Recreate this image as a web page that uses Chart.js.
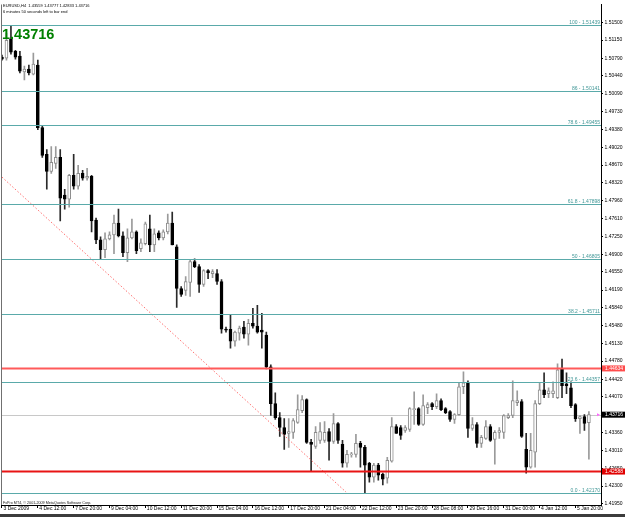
<!DOCTYPE html>
<html>
<head>
<meta charset="utf-8">
<script src="https://cdn.jsdelivr.net/npm/chart.js@4"></script>
<style>
  html, body { margin: 0; padding: 0; background: #fff; }
  canvas { display: block; }
</style>
</head>
<body>
<canvas id="chart" width="625" height="517"></canvas>
<script>
// EURUSD H4 candles, 3 Dec 2009 .. 6 Jan 2010
const opens = [
  1.50810, 1.50790, 1.51165, 1.50928, 1.50830, 1.50515, 1.50574, 1.50475, 1.50653, 1.49412,
  1.48880, 1.48545, 1.48702, 1.48821, 1.48072, 1.47993, 1.48466, 1.48249, 1.48505, 1.48407,
  1.48446, 1.47579, 1.47185, 1.46988, 1.47205, 1.47284, 1.47520, 1.47264, 1.46929, 1.47225,
  1.47343, 1.47008, 1.47107, 1.47402, 1.47087, 1.47323, 1.47225, 1.47343, 1.47520, 1.47048,
  1.46220, 1.46181, 1.46338, 1.46752, 1.46654, 1.46299, 1.46575, 1.46516, 1.46516, 1.46358,
  1.45412, 1.45412, 1.45176, 1.45334, 1.45452, 1.45314, 1.45531, 1.45472, 1.45393, 1.45294,
  1.44664, 1.43935, 1.43659, 1.43462, 1.43344, 1.43364, 1.43561, 1.43797, 1.44014, 1.43167,
  1.43088, 1.43206, 1.43206, 1.43383, 1.43186, 1.43541, 1.43127, 1.42753, 1.42920, 1.42930,
  1.43147, 1.43068, 1.42753, 1.42477, 1.42714, 1.42536, 1.42457, 1.42792, 1.43482, 1.43462,
  1.43403, 1.43423, 1.43817, 1.43836, 1.43521, 1.43856, 1.43935, 1.43876, 1.43994, 1.43836,
  1.43777, 1.43620, 1.43718, 1.44270, 1.44349, 1.43442, 1.43521, 1.43147, 1.43245, 1.43482,
  1.43226, 1.43364, 1.43364, 1.43659, 1.43699, 1.43955, 1.43974, 1.43029, 1.42674, 1.42970,
  1.43935, 1.44211, 1.44132, 1.44132, 1.44053, 1.44624, 1.44329, 1.44250, 1.43915, 1.43639,
  1.43679, 1.43559
];
const highs = [
  1.50850, 1.51283, 1.51439, 1.50948, 1.50928, 1.50633, 1.50653, 1.50889, 1.50751, 1.49451,
  1.48978, 1.49037, 1.49037, 1.48978, 1.48190, 1.48486, 1.48880, 1.48663, 1.48564, 1.48604,
  1.48466, 1.47619, 1.47245, 1.47323, 1.47343, 1.47678, 1.47796, 1.47343, 1.47402, 1.47599,
  1.47363, 1.47205, 1.47540, 1.47678, 1.47402, 1.47363, 1.47382, 1.47698, 1.47737, 1.47087,
  1.46260, 1.46457, 1.46791, 1.46811, 1.46693, 1.46594, 1.46594, 1.46594, 1.46594, 1.46397,
  1.45452, 1.45708, 1.45373, 1.45472, 1.45570, 1.45609, 1.45826, 1.45885, 1.45728, 1.45353,
  1.44703, 1.44152, 1.43758, 1.43639, 1.43639, 1.43639, 1.44112, 1.44093, 1.44033, 1.43226,
  1.43482, 1.43561, 1.43580, 1.43442, 1.43738, 1.43561, 1.43206, 1.43009, 1.42970, 1.43324,
  1.43186, 1.43108, 1.42773, 1.42753, 1.42753, 1.42556, 1.42871, 1.43659, 1.43521, 1.43502,
  1.43502, 1.43856, 1.44171, 1.43856, 1.44112, 1.43955, 1.43955, 1.44132, 1.44033, 1.43856,
  1.43797, 1.43738, 1.44349, 1.44565, 1.44388, 1.43659, 1.43561, 1.43305, 1.43600, 1.43521,
  1.43403, 1.43462, 1.43718, 1.43738, 1.44388, 1.44191, 1.44014, 1.43344, 1.43344, 1.43994,
  1.44349, 1.44546, 1.44250, 1.44368, 1.44723, 1.44821, 1.44546, 1.44368, 1.43935, 1.43699,
  1.43718, 1.43777
];
const lows = [
  1.50751, 1.50751, 1.50869, 1.50771, 1.50495, 1.50357, 1.50456, 1.50456, 1.49372, 1.48821,
  1.48190, 1.48505, 1.48604, 1.47560, 1.47796, 1.47836, 1.48190, 1.48190, 1.48367, 1.48367,
  1.47343, 1.47107, 1.46811, 1.46831, 1.47185, 1.46910, 1.47245, 1.46851, 1.46752, 1.47205,
  1.46910, 1.46949, 1.47087, 1.46949, 1.46949, 1.47185, 1.47185, 1.47304, 1.47087, 1.45846,
  1.46063, 1.46082, 1.46063, 1.46634, 1.46141, 1.46260, 1.46417, 1.46437, 1.46299, 1.45334,
  1.45353, 1.45038, 1.45078, 1.45196, 1.45235, 1.45097, 1.45432, 1.45334, 1.45038, 1.44624,
  1.43699, 1.43620, 1.43285, 1.43029, 1.43068, 1.43245, 1.43541, 1.43758, 1.43147, 1.42595,
  1.43048, 1.43147, 1.43167, 1.42812, 1.43147, 1.43147, 1.42674, 1.42674, 1.42871, 1.42871,
  1.42674, 1.42170, 1.42379, 1.42379, 1.42418, 1.42320, 1.42359, 1.42773, 1.43344, 1.43226,
  1.43364, 1.43383, 1.43521, 1.43502, 1.43502, 1.43738, 1.43817, 1.43836, 1.43797, 1.43738,
  1.43580, 1.43541, 1.43699, 1.44132, 1.43265, 1.43403, 1.43068, 1.43068, 1.43226, 1.43186,
  1.42733, 1.43245, 1.43245, 1.43639, 1.43659, 1.43896, 1.43265, 1.42556, 1.42654, 1.42674,
  1.43915, 1.44053, 1.44053, 1.44053, 1.44033, 1.44053, 1.44132, 1.43856, 1.43580, 1.43344,
  1.43403, 1.42833
];
const closes = [
  1.50771, 1.51145, 1.50909, 1.50810, 1.50534, 1.50574, 1.50495, 1.50672, 1.49412, 1.48860,
  1.48545, 1.48722, 1.48821, 1.48013, 1.47993, 1.48466, 1.48249, 1.48505, 1.48407, 1.48446,
  1.47560, 1.47185, 1.46988, 1.47205, 1.47284, 1.47520, 1.47264, 1.46929, 1.47225, 1.47343,
  1.46969, 1.47126, 1.47501, 1.47087, 1.47304, 1.47225, 1.47343, 1.47520, 1.47087, 1.46220,
  1.46102, 1.46358, 1.46752, 1.46654, 1.46299, 1.46575, 1.46535, 1.46555, 1.46358, 1.45412,
  1.45393, 1.45176, 1.45353, 1.45432, 1.45314, 1.45531, 1.45472, 1.45353, 1.45353, 1.44664,
  1.43935, 1.43659, 1.43462, 1.43324, 1.43383, 1.43600, 1.43817, 1.44014, 1.43167, 1.43127,
  1.43364, 1.43383, 1.43364, 1.43186, 1.43541, 1.43206, 1.42753, 1.42930, 1.42930, 1.43147,
  1.43068, 1.42714, 1.42477, 1.42714, 1.42517, 1.42438, 1.42812, 1.43482, 1.43344, 1.43305,
  1.43462, 1.43836, 1.43836, 1.43521, 1.43896, 1.43915, 1.43876, 1.43994, 1.43817, 1.43758,
  1.43620, 1.43718, 1.44270, 1.44349, 1.43442, 1.43521, 1.43147, 1.43265, 1.43482, 1.43206,
  1.43364, 1.43403, 1.43699, 1.43699, 1.43994, 1.43994, 1.43285, 1.42674, 1.43009, 1.43935,
  1.44211, 1.44112, 1.44191, 1.44191, 1.44605, 1.44290, 1.44290, 1.43896, 1.43639, 1.43679,
  1.43541, 1.43716
];

// one time label every 8 bars
const xTickLabels = [
  '3 Dec 2009', '4 Dec 12:00', '7 Dec 20:00', '9 Dec 04:00', '10 Dec 12:00', '11 Dec 20:00',
  '15 Dec 04:00', '16 Dec 12:00', '17 Dec 20:00', '21 Dec 04:00', '22 Dec 12:00', '23 Dec 20:00',
  '28 Dec 08:00', '29 Dec 16:00', '31 Dec 00:00', '4 Jan 12:00', '5 Jan 20:00'
];
const yTickValues = [
  1.51500, 1.51150, 1.50790, 1.50440, 1.50090, 1.49730, 1.49380, 1.49020, 1.48670, 1.48320,
  1.47960, 1.47610, 1.47250, 1.46900, 1.46550, 1.46190, 1.45840, 1.45480, 1.45130, 1.44780,
  1.44420, 1.44070, 1.43720, 1.43360, 1.43010, 1.42650, 1.42300, 1.41950
];

// fibonacci retracement levels
const fibNames = ['100', '86', '78.6', '61.8', '50', '38.2', '23.6', '0.0'];
const fibPrices = [1.51439, 1.50141, 1.49455, 1.47898, 1.46805, 1.45711, 1.44357, 1.42170];

// horizontal lines and the dashed trend line
const redLevels = [1.44634, 1.42588];
const bidPrice = 1.43716;
const trendX = [0, 76.8];
const trendY = [1.48430, 1.42180];

const titleLine = 'EURUSD,H4  1.43559 1.43777 1.42833 1.43716';
const timerLine = '6 minutes 50 seconds left to bar end';
const copyright = 'FxPro MT4, \u00a9 2001-2009 MetaQuotes Software Corp.';

const FONT = '"Liberation Sans", Arial, sans-serif';
const isUp = i => closes[i] >= opens[i];

const overlay = {
  id: 'overlay',
  beforeDatasetsDraw(chart) {
    const { ctx, chartArea: a, scales: { y } } = chart;
    ctx.save();
    ctx.strokeStyle = '#c8c8c8';
    ctx.lineWidth = 1;
    const py = Math.round(y.getPixelForValue(bidPrice)) + 0.5;
    ctx.beginPath();
    ctx.moveTo(a.left, py);
    ctx.lineTo(a.right, py);
    ctx.stroke();
    ctx.restore();
  },
  afterDatasetsDraw(chart) {
    const { ctx, chartArea: a, scales: { y } } = chart;
    ctx.save();
    ctx.beginPath();
    ctx.rect(a.left, a.top, a.right - a.left, a.bottom - a.top);
    ctx.clip();

    // fibo levels
    ctx.font = '5px ' + FONT;
    ctx.textAlign = 'right';
    ctx.textBaseline = 'alphabetic';
    fibPrices.forEach((p, i) => {
      const py = Math.round(y.getPixelForValue(p)) + 0.5;
      ctx.strokeStyle = '#5aaaaa';
      ctx.lineWidth = 1;
      ctx.beginPath();
      ctx.moveTo(a.left, py);
      ctx.lineTo(a.right, py);
      ctx.stroke();
      ctx.fillStyle = '#3f9696';
      ctx.fillText(fibNames[i] + ' - ' + p.toFixed(5), a.right - 1, py - 2);
    });

    // red support / resistance
    const redCols = ['#ff5a5a', '#e81414'];
    redLevels.forEach((p, i) => {
      const py = y.getPixelForValue(p);
      ctx.strokeStyle = redCols[i];
      ctx.lineWidth = 2;
      ctx.beginPath();
      ctx.moveTo(a.left, py);
      ctx.lineTo(a.right, py);
      ctx.stroke();
    });
    ctx.restore();
  },
  afterDraw(chart) {
    const { ctx, chartArea: a, scales: { y } } = chart;
    ctx.save();

    // price tags on the axis
    const tag = (p, bg) => {
      const py = y.getPixelForValue(p);
      ctx.fillStyle = bg;
      ctx.fillRect(a.right + 1, py - 3, 23, 6);
      ctx.fillStyle = '#fff';
      ctx.font = '5px ' + FONT;
      ctx.textAlign = 'left';
      ctx.textBaseline = 'middle';
      ctx.fillText(p.toFixed(5), a.right + 4, py + 0.3);
    };
    tag(redLevels[0], '#ff4c4c');
    tag(redLevels[1], '#e00000');
    tag(bidPrice, '#000');

    // small pink arrow next to the bid tag
    const by = y.getPixelForValue(bidPrice);
    ctx.fillStyle = '#ff66ff';
    ctx.beginPath();
    ctx.moveTo(a.right - 4, by - 1.5);
    ctx.lineTo(a.right - 1, by);
    ctx.lineTo(a.right - 4, by + 1.5);
    ctx.closePath();
    ctx.fill();

    // left frame
    ctx.fillStyle = '#707070';
    ctx.fillRect(a.left, a.top, 1, a.bottom - a.top);

    // texts
    ctx.textAlign = 'left';
    ctx.textBaseline = 'alphabetic';
    ctx.fillStyle = '#000';
    ctx.font = '4px ' + FONT;
    ctx.fillText(titleLine, 3, 6.5);
    ctx.fillText(timerLine, 3, 12.8);
    ctx.fillStyle = '#202020';
    ctx.font = '3.7px ' + FONT;
    ctx.fillText(copyright, 3, 503.5);

    ctx.fillStyle = '#008000';
    ctx.font = 'bold 14.5px ' + FONT;
    ctx.fillText(bidPrice.toFixed(5), 2, 38.5);

    // bottom window edge
    ctx.fillStyle = '#3c3c3c';
    ctx.fillRect(0, 514, 625, 3);
    ctx.restore();
  }
};

new Chart(document.getElementById('chart'), {
  type: 'bar',
  data: {
    datasets: [
      {
        label: 'trend',
        type: 'line',
        data: trendX.map((x, i) => ({ x: x, y: trendY[i] })),
        borderColor: '#ff7070',
        borderWidth: 1,
        borderDash: [1.5, 2],
        pointRadius: 0,
        order: 0
      },
      {
        label: 'body',
        data: opens.map((o, i) => ({ x: i, y: [o, closes[i]] })),
        grouped: false,
        barThickness: 3,
        minBarLength: 1,
        borderWidth: 1,
        borderSkipped: false,
        backgroundColor: c => isUp(c.dataIndex) ? '#ffffff' : '#000000',
        borderColor: c => isUp(c.dataIndex) ? '#8c8c8c' : '#000000',
        order: 1
      },
      {
        label: 'wick',
        data: lows.map((l, i) => ({ x: i, y: [l, highs[i]] })),
        grouped: false,
        barThickness: 1,
        borderWidth: 0,
        backgroundColor: c => isUp(c.dataIndex) ? '#9a9a9a' : '#2a2a2a',
        order: 2
      }
    ]
  },
  options: {
    responsive: false,
    animation: false,
    events: [],
    layout: { padding: { left: 1, top: 1, right: 0, bottom: 0 } },
    plugins: { legend: { display: false }, tooltip: { enabled: false } },
    scales: {
      x: {
        type: 'linear',
        position: 'bottom',
        min: -0.22,
        max: 133.7,
        offset: false,
        afterBuildTicks: s => { s.ticks = xTickLabels.map((_, k) => ({ value: k * 8 })); },
        afterFit: s => { s.height = 12; },
        grid: { offset: false, drawOnChartArea: false, drawTicks: true, tickLength: 3, color: '#000' },
        border: { display: true, color: '#000' },
        ticks: {
          autoSkip: false,
          maxRotation: 0,
          align: 'start',
          padding: -2,
          labelOffset: 1.5,
          color: '#000',
          font: { family: FONT, size: 5 },
          callback: v => xTickLabels[Math.round(v / 8)]
        }
      },
      y: {
        type: 'linear',
        position: 'right',
        min: 1.41924,
        max: 1.51855,
        afterBuildTicks: s => { s.ticks = yTickValues.map(v => ({ value: v })); },
        afterFit: s => { s.width = 24; },
        grid: { drawOnChartArea: false, drawTicks: true, tickLength: 2, color: '#000' },
        border: { display: true, color: '#000' },
        ticks: {
          autoSkip: false,
          padding: 1.5,
          color: '#000',
          font: { family: FONT, size: 5 },
          callback: v => v.toFixed(5)
        }
      }
    }
  },
  plugins: [overlay]
});
</script>
</body>
</html>
